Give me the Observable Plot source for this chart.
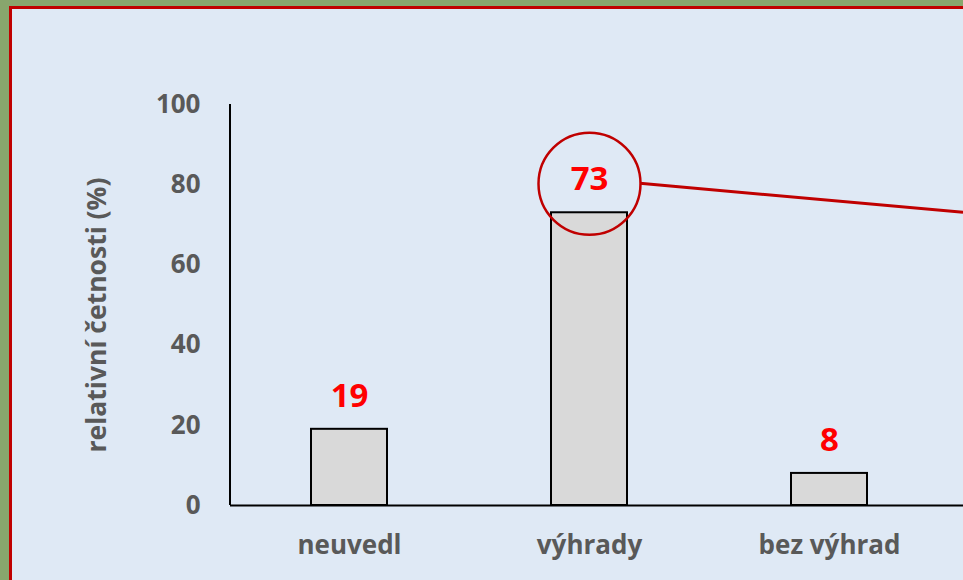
<!DOCTYPE html>
<html>
<head>
<meta charset="utf-8">
<script src="https://cdn.jsdelivr.net/npm/d3@7"></script>
<script src="https://cdn.jsdelivr.net/npm/@observablehq/plot@0.6"></script>
<style>
  html, body { margin: 0; padding: 0; }
  body { width: 963px; height: 580px; overflow: hidden; background: #88a66d; position: relative; }
  #panel { position: absolute; left: 9px; top: 6px; width: 1000px; height: 620px; background: #dfe9f5; border: 3px solid #c00000; box-sizing: border-box; }
  #chart { position: absolute; left: 0; top: 0; }
  #chart svg text { font-family: "Open Sans", Lato, sans-serif; }
</style>
</head>
<body>
<div id="panel"></div>
<div id="chart"></div>
<script>
const categories = ["neuvedl", "výhrady", "bez výhrad"];
const values = [19, 73, 8];
const yTicks = [0, 20, 40, 60, 80, 100];
const yLabel = "relativní četnosti (%)";
const highlighted = "výhrady";

const data = categories.map((c, i) => ({cat: c, val: values[i]}));
const hi = data.filter(d => d.cat === highlighted);

const gray = "#595959";

// y axis line from scales
const yAxisLine = (index, scales, values, dims) => {
  const g = d3.create("svg:g");
  g.append("line")
    .attr("x1", dims.marginLeft).attr("x2", dims.marginLeft)
    .attr("y1", scales.y(0)).attr("y2", scales.y(100))
    .attr("stroke", "#000").attr("stroke-width", 2);
  return g.node();
};

// annotation line from the circle to the right edge
const calloutLine = (index, scales, values, dims) => {
  const d = hi[0];
  const cx = scales.x(d.cat) + scales.x.bandwidth() / 2;
  const cy = scales.y(d.val) - 29;
  const g = d3.create("svg:g");
  g.append("line")
    .attr("x1", cx + 51).attr("y1", cy)
    .attr("x2", dims.width).attr("y2", scales.y(d.val))
    .attr("stroke", "#c00000").attr("stroke-width", 3);
  return g.node();
};

const chart = Plot.plot({
  width: 963,
  height: 580,
  marginLeft: 230,
  marginRight: 0,
  marginTop: 104,
  marginBottom: 75,
  style: {background: "transparent", color: gray, fontWeight: "bold", overflow: "visible"},
  x: {domain: categories, range: [228, 949.5], paddingInner: 0.684, paddingOuter: 0.342, label: null},
  y: {domain: [0, 100], ticks: yTicks, label: null},
  marks: [
    Plot.axisY({ticks: yTicks, tickSize: 0, tickPadding: 30, fontSize: 26, label: null}),
    Plot.axisX({tickSize: 0, tickPadding: 30, fontSize: 26, label: null}),
    Plot.text([yLabel], {text: d => d, frameAnchor: "left", textAnchor: "middle", dx: -133, dy: 10, rotate: -90, fontSize: 26.5, fill: gray}),
    Plot.barY(data, {x: "cat", y: "val", fill: "#d9d9d9", stroke: "#000", strokeWidth: 2}),
    Plot.ruleY([0], {stroke: "#000", strokeWidth: 2}),
    yAxisLine,
    Plot.text(data, {x: "cat", y: "val", text: d => String(d.val), dy: -33, fill: "#ff0000", fontSize: 33, fontWeight: "bold"}),
    Plot.dot(hi, {x: "cat", y: "val", dy: -29, r: 51, stroke: "#c00000", strokeWidth: 2.5, fill: "none"}),
    calloutLine
  ]
});
document.getElementById("chart").appendChild(chart);
</script>
</body>
</html>
